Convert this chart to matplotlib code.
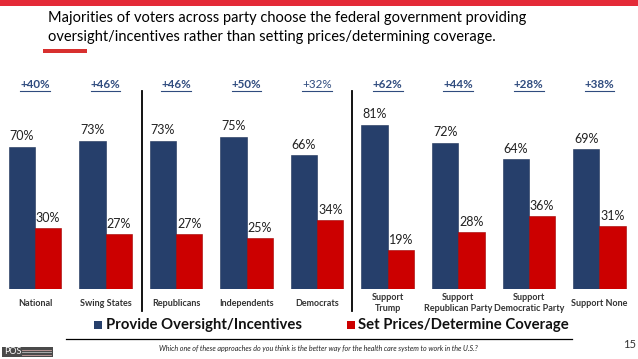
import numpy as np
import matplotlib
matplotlib.use('Agg')
import matplotlib.pyplot as plt
from matplotlib.lines import Line2D
from matplotlib.patches import Rectangle

plt.rcParams['font.family'] = ['Lato', 'DejaVu Sans']

groups = ['National', 'Swing States', 'Republicans', 'Independents', 'Democrats',
          'Support\nTrump', 'Support\nRepublican Party', 'Support\nDemocratic Party', 'Support None']
oversight = [70, 73, 73, 75, 66, 81, 72, 64, 69]
set_prices = [30, 27, 27, 25, 34, 19, 28, 36, 31]
margins = ['+40%', '+46%', '+46%', '+50%', '+32%', '+62%', '+44%', '+28%', '+38%']

W, H = 638, 359
BLUE = '#263F6B'
RED = '#CC0000'
NAVY_TXT = '#2F4B7E'

fig = plt.figure(figsize=(W / 100, H / 100), dpi=100)

def px(x, y):
    return x / W, 1 - y / H

# top red strip and small title underline
fig.add_artist(Rectangle(px(0, 5.5), 1, 5.5 / H, color='#E42A38', lw=0))
fig.add_artist(Rectangle(px(43, 53), 44 / W, 4 / H, color='#D8302F', lw=0))

fig.text(*px(48, 18), 'Majorities of voters across party choose the federal government providing',
         fontsize=10.5, va='center', ha='left', color='black')
fig.text(*px(48, 37), 'oversight/incentives rather than setting prices/determining coverage.',
         fontsize=10.5, va='center', ha='left', color='black')

# axes: baseline at y=289 px, group centres at 35 + 70.55*i px
base, top = 289, 80
ax = fig.add_axes([0, 1 - base / H, 1, (base - top) / H])
step = 70.55
ax.set_xlim(-35 / step, (W - 35) / step)
ax.set_ylim(0, (base - top) / 2.03)
ax.axis('off')

x = np.arange(len(groups))
bw = 26.3 / step
ax.bar(x - bw / 2, oversight, bw, color=BLUE, edgecolor='#1d3158', lw=0.4)
ax.bar(x + bw / 2, set_prices, bw, color=RED, edgecolor='#a00000', lw=0.4)

for i in range(len(groups)):
    ax.annotate(f'{oversight[i]}%', (x[i] - bw / 2, oversight[i]), xytext=(0, 7.5),
                textcoords='offset points', ha='center', va='center', fontsize=9,
                color='#222222')
    ax.annotate(f'{set_prices[i]}%', (x[i] + bw / 2, set_prices[i]), xytext=(0, 7.5),
                textcoords='offset points', ha='center', va='center', fontsize=9,
                color='#222222')

# separators
for sx in [141.7, 351.7]:
    fig.add_artist(Line2D([sx / W] * 2, [1 - 91 / H, 1 - 311 / H], color='black', lw=1.3))

# category labels
for i, g in enumerate(groups):
    cx = 35 + step * i
    fig.text(*px(cx, 303), g, ha='center', va='center', fontsize=6.5,
             fontweight='bold', color='#333333', linespacing=1.35)

# margin labels, underlined
mtexts = []
for i, m in enumerate(margins):
    cx = 35 + step * i
    t = fig.text(*px(cx, 84.5), m, ha='center', va='center', fontsize=8.4,
                 fontweight='bold' if m != '+32%' else 'normal', color=NAVY_TXT)
    mtexts.append(t)

# legend
fig.add_artist(Rectangle(px(94, 329), 8.5 / W, 8.5 / H, color=BLUE, lw=0))
fig.text(*px(106, 325), 'Provide Oversight/Incentives', fontsize=10.7, fontweight='bold',
         va='center', ha='left', color='#111111')
fig.add_artist(Rectangle(px(346.5, 329), 8.5 / W, 8.5 / H, color=RED, lw=0))
fig.text(*px(358, 325), 'Set Prices/Determine Coverage', fontsize=10.7, fontweight='bold',
         va='center', ha='left', color='#111111')

# footer
fig.add_artist(Line2D([66 / W, 572 / W], [1 - 338.5 / H] * 2, color='black', lw=0.9))
fig.text(*px(318.5, 349), 'Which one of these approaches do you think is the better way for the health care system to work in the U.S.?',
         fontsize=5.1, style='italic', ha='center', va='center', color='#222222')
fig.text(*px(630, 345), '15', fontsize=8, ha='center', va='center', color='#333333')

# POS logo
fig.add_artist(Rectangle(px(2, 357), 51 / W, 10 / H, color='#4a4a4a', lw=0))
fig.text(*px(4, 352), 'POS', fontsize=6.5, color='white', ha='left', va='center')
for yy, c in [(349.5, '#c9a0a0'), (352, '#bbbbbb'), (354.5, '#c9a0a0')]:
    fig.add_artist(Line2D([22 / W, 51 / W], [1 - yy / H] * 2, color=c, lw=0.6))

fig.canvas.draw()
r = fig.canvas.get_renderer()
for t in mtexts:
    bb = t.get_window_extent(r)
    yline = 1 - 90.5 / H
    fig.add_artist(Line2D([bb.x0 / W, bb.x1 / W], [yline, yline], color=NAVY_TXT, lw=0.8))

fig.savefig('out.png', dpi=100)
